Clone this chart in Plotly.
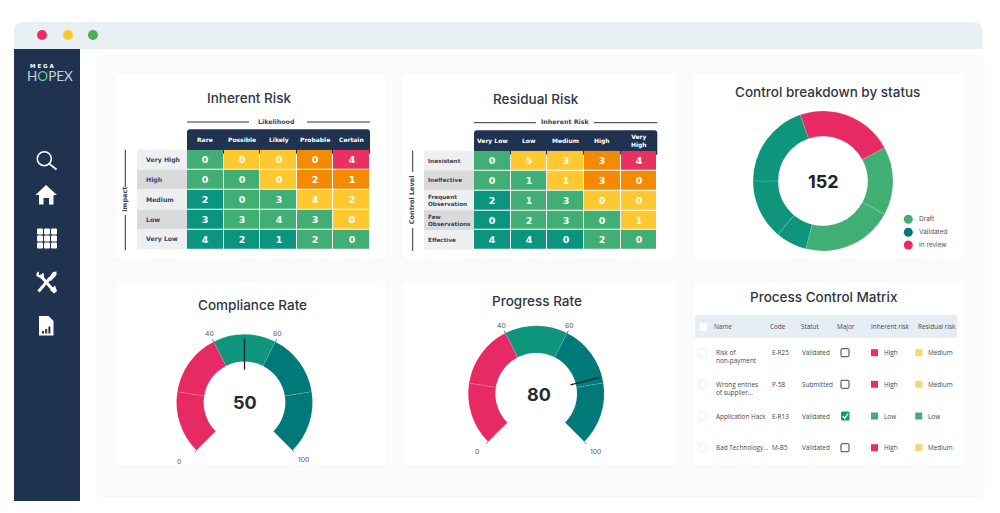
import plotly.graph_objects as go

# Theme config
NAVY = "#1f3350"
TITLE_COLOR = "#2f3647"
LABEL_COLOR = "#3a4256"
TITLE_FONT = "Inter, Arial, sans-serif"
BOLD_FONT = "DejaVu Sans"
TABLE_FONT = "Open Sans, Arial, sans-serif"

PINK = "#e72a63"
MID_GREEN = "#0e957c"
TEAL = "#007a78"
DRAFT_GREEN = "#41ae73"
LEVEL_COLORS = ["#0b957f", "#41ae73", "#ffc82e", "#f38a00", "#e8315e"]

# Heatmap data
inherent_cols = ["Rare", "Possible", "Likely", "Probable", "Certain"]
inherent_rows = ["Very High", "High", "Medium", "Low", "Very Low"]
inherent_counts = [[0, 0, 0, 0, 4], [0, 0, 0, 2, 1], [2, 0, 3, 4, 2], [3, 3, 4, 3, 0], [4, 2, 1, 2, 0]]

residual_cols = ["Very Low", "Low", "Medium", "High", "Very<br>High"]
residual_rows = ["Inexistent", "Ineffective", "Frequent<br>Observation", "Few<br>Observations", "Effective"]
residual_counts = [[0, 5, 3, 3, 4], [0, 1, 1, 3, 0], [2, 1, 3, 0, 0], [0, 2, 3, 0, 1], [4, 4, 0, 2, 0]]

risk_levels = [[1, 2, 2, 3, 4], [1, 1, 2, 3, 3], [0, 1, 1, 2, 2], [0, 1, 1, 1, 2], [0, 0, 0, 1, 1]]

# Donut data
donut_labels = ["In review", "Draft A", "Draft B", "Validated A", "Validated B", "Validated C"]
donut_values = [34, 24, 32, 11, 21, 30]
donut_colors = [PINK, DRAFT_GREEN, DRAFT_GREEN, MID_GREEN, MID_GREEN, MID_GREEN]
donut_total = "152"
legend_names = ["Draft", "Validated", "In review"]
legend_colors = [DRAFT_GREEN, TEAL, PINK]

# Gauge data
gauge_edges = [0, 20, 40, 60, 80, 100]
gauge_band_colors = [PINK, PINK, MID_GREEN, TEAL, TEAL]
gauge_ticks = [0, 40, 60, 100]
compliance_value = 50
compliance_needle = 50
progress_value = 80
progress_needle = 78

# Table data
table_headers = ["Name", "Code", "Statut", "Major", "Inherent risk", "Residual risk"]
table_names = ["Risk of<br>non-payment", "Wrong entries<br>of supplier...", "Application Hack", "Bad Technology..."]
table_codes = ["E-R25", "P-58", "E-R13", "M-B5"]
table_status = ["Validated", "Submitted", "Validated", "Validated"]
table_major = [False, False, True, False]
table_inherent = ["High", "High", "Low", "High"]
table_residual = ["Medium", "Medium", "Low", "Medium"]
RISK_COLOR = {"High": "#e8315e", "Medium": "#f5d76e", "Low": "#41ae73"}

shapes = []
annotations = []


def text(x, y, s, size, color=LABEL_COLOR, family=TITLE_FONT, anchor="center", angle=0, weight="normal"):
    annotations.append(dict(
        x=x, y=y, xref="x", yref="y", text=s, showarrow=False, xanchor=anchor, yanchor="middle",
        textangle=angle, align="left" if anchor == "left" else "center",
        font=dict(size=size, color=color, family=family, weight=weight),
    ))


def rounded(x0, y0, x1, y1, r, fill, line=None, width=1, top_only=False):
    br = 0 if top_only else r
    path = (f"M {x0 + r},{y0} L {x1 - r},{y0} Q {x1},{y0} {x1},{y0 + r} "
            f"L {x1},{y1 - br} Q {x1},{y1} {x1 - br},{y1} L {x0 + br},{y1} Q {x0},{y1} {x0},{y1 - br} "
            f"L {x0},{y0 + r} Q {x0},{y0} {x0 + r},{y0} Z")
    shapes.append(dict(type="path", path=path, xref="x", yref="y", fillcolor=fill, layer="below",
                       line=dict(color=line or fill, width=width if line else 0)))


def rect(x0, y0, x1, y1, fill, line=None, width=1):
    shapes.append(dict(type="rect", x0=x0, y0=y0, x1=x1, y1=y1, xref="x", yref="y", fillcolor=fill,
                       layer="below", line=dict(color=line or fill, width=width if line else 0)))


def line(x0, y0, x1, y1, color, width=1):
    shapes.append(dict(type="line", x0=x0, y0=y0, x1=x1, y1=y1, xref="x", yref="y", layer="below",
                       line=dict(color=color, width=width)))


def circle(cx, cy, r, fill, line_color=None, width=0):
    shapes.append(dict(type="circle", x0=cx - r, y0=cy - r, x1=cx + r, y1=cy + r, xref="x", yref="y",
                       fillcolor=fill, layer="below", line=dict(color=line_color or fill, width=width)))


def poly(path, fill):
    shapes.append(dict(type="path", path=path, xref="x", yref="y", fillcolor=fill, layer="below", line=dict(width=0)))


# -----------------
# Window frame
# -----------------
rounded(14, 22, 983, 60, 10, "#e8f0f3", top_only=True)
rect(14, 49, 983, 502, "#ffffff")
rounded(97, 56, 984, 497, 6, "#fbfbfc", "#f7f7f9")
rect(14, 49, 80, 501, NAVY)
for cx, col in zip([42, 68, 93], ["#e8305e", "#ffc82e", "#4caf50"]):
    circle(cx, 35, 5, col)

# Cards
for box in [(114, 73, 387, 260), (401, 73, 677, 260), (692, 73, 965, 260),
            (115, 280, 387, 466), (402, 280, 677, 466), (692, 280, 965, 466)]:
    rounded(*box, 4, "#ffffff", "#f6f6f8")

# -----------------
# Sidebar logo and icons
# -----------------
text(41.5, 66, "M E G A", 5.5, "#ffffff", BOLD_FONT, weight="bold")
text(49.5, 76, "H<span style='color:#5fd0a0'>O</span>PEX", 13.5, "#c9d2dc", "Lato, sans-serif")

circle(44.3, 158.7, 7, "rgba(0,0,0,0)", "#ffffff", 1.6)
line(49.5, 164, 56.5, 169.5, "#ffffff", 1.8)

poly("M 46,185 L 57,195 L 53.5,195 L 53.5,204.5 L 49,204.5 L 49,198 L 43.5,198 L 43.5,204.5 "
     "L 39,204.5 L 39,195 L 35.5,195 Z", "#ffffff")

for gx in [37, 44, 51]:
    for gy in [228.5, 235.5, 242.5]:
        rounded(gx, gy, gx + 6, gy + 6, 1, "#ffffff")

# crossed wrench and screwdriver
line(38.5, 291.5, 50, 278, "#ffffff", 3)
poly("M 48,279 L 53,272 L 56.5,271.5 L 56.5,275 L 51,281 Z", "#ffffff")
line(40, 275, 53, 290, "#ffffff", 3)
poly("M 36.5,276 Q 35.5,272.5 39,271.5 L 38.8,275 L 41.2,275.5 L 43,272.5 Q 45.5,276 42,279 Z", "#ffffff")
poly("M 50,290 L 55,285.5 L 57,291 L 54,293.5 Z", "#ffffff")

poly("M 39,316 L 48.5,316 L 53.5,321 L 53.5,335.5 L 39,335.5 Z", "#ffffff")
for bx, top in [(42, 331), (45.2, 329), (48.4, 326.5)]:
    rect(bx, top, bx + 2, 333.5, NAVY)

# -----------------
# Heatmap decoration: headers, row labels, axis captions
# -----------------
def matrix_frame(left, right, top, bottom, head_top, label_left, label_pad, label_size, cols, rows, caption, cap_x, line_y, gap, side, side_x, side_y, side_gap):
    rounded(left, head_top, right, top + 4, 3, NAVY, top_only=True)
    cw = (right - left) / len(cols)
    rh = (bottom - top) / len(rows)
    for i, c in enumerate(cols):
        text(left + cw * (i + 0.5), (head_top + top) / 2, c, 6, "#ffffff", BOLD_FONT, weight="bold")
    for i, r in enumerate(rows):
        y0 = top + rh * i
        rect(label_left, y0, left, y0 + rh, "#d9dadc" if i % 2 else "#eeeff1")
        text(label_left + label_pad, y0 + rh / 2, r, label_size, "#39435a", BOLD_FONT, anchor="left", weight="bold")
    line(left, line_y, gap[0], line_y, "#333333", 1)
    line(gap[1], line_y, right, line_y, "#333333", 1)
    text(cap_x, line_y - 1, caption, 6.3, "#39435a", BOLD_FONT, weight="bold")
    line(side_x, top, side_x, side_gap[0], "#333333", 1)
    line(side_x, side_gap[1], side_x, bottom + 1, "#333333", 1)
    text(side_x - 0.5, side_y, side, 6.5, "#39435a", BOLD_FONT, angle=-90, weight="bold")


matrix_frame(187, 370, 149.7, 249.3, 129.3, 137, 7, 6.2, inherent_cols, inherent_rows, "Likelihood", 275.7, 122,
             (249, 307), "Impact", 125.3, 199, (187, 215))
matrix_frame(474, 657.3, 150.7, 250, 130.3, 424, 1.5, 5.7, residual_cols, residual_rows, "Inherent Risk", 565, 122.7,
             (536, 594), "Control Level", 412.7, 200, (172, 228))

text(249, 98.3, "Inherent Risk", 13.5, TITLE_COLOR, weight=500)
text(535.7, 98.7, "Residual Risk", 13.5, TITLE_COLOR, weight=500)
text(827.7, 92, "Control breakdown by status", 13.5, TITLE_COLOR, weight=500)
text(252.7, 304.7, "Compliance Rate", 13.5, TITLE_COLOR, weight=500)
text(537, 300.7, "Progress Rate", 13.5, TITLE_COLOR, weight=500)
text(824.3, 296.7, "Process Control Matrix", 13.5, TITLE_COLOR, weight=500)

# -----------------
# Table
# -----------------
rect(695, 315, 957, 338, "#e6edf5")
rounded(699.5, 323, 707, 331, 1, "#ffffff")
header_x = [712, 767.5, 798.5, 835, 868.5, 916]
for hx, h in zip(header_x, table_headers):
    text(hx, 326, h, 6.4, "#3f4759", TABLE_FONT, anchor="left")

row_y = [352.7, 384.3, 416, 447.7]
risk_x, risk_y, risk_c = [], [], []
for i, ry in enumerate(row_y):
    rounded(699, ry - 4, 707, ry + 4, 1, "#ffffff", "#e6e7ea", 0.8)
    name_y = ry + 4 if "<br>" in table_names[i] else ry
    text(714, name_y, table_names[i], 6.4, "#3f4759", TABLE_FONT, anchor="left")
    text(770, ry, table_codes[i], 6.4, "#3f4759", TABLE_FONT, anchor="left")
    text(800, ry, table_status[i], 6.4, "#3f4759", TABLE_FONT, anchor="left")
    if table_major[i]:
        rounded(841, ry - 4.5, 849.5, ry + 4.5, 1.5, "#0e9a6a")
        shapes.append(dict(type="path", path=f"M 842.8,{ry} L 844.8,{ry + 2.4} L 848,{ry - 2.4}", xref="x", yref="y",
                           layer="below", line=dict(color="#ffffff", width=1.4)))
    else:
        rounded(841, ry - 4, 849, ry + 4, 1, "#ffffff", "#3a3f4a", 1)
    text(881.5, ry, table_inherent[i], 6.4, "#3f4759", TABLE_FONT, anchor="left")
    text(926, ry, table_residual[i], 6.4, "#3f4759", TABLE_FONT, anchor="left")
    risk_x += [874.5, 918.7]
    risk_y += [ry, ry]
    risk_c += [RISK_COLOR[table_inherent[i]], RISK_COLOR[table_residual[i]]]

# -----------------
# Donut legend and centre
# -----------------
legend_y = [219.3, 232.3, 245]
for ly, n in zip(legend_y, legend_names):
    text(917, ly, n, 6.5, "#4a5265", TITLE_FONT, anchor="left")
text(823.5, 181, donut_total, 18, "#20242f", weight="bold")

fig = go.Figure()

# Page overlay traces: table risk squares and donut legend dots
fig.add_trace(go.Scatter(
    x=risk_x, y=risk_y, mode="markers", xaxis="x", yaxis="y", hoverinfo="skip", showlegend=False,
    marker=dict(symbol="square", size=7, color=risk_c),
))
fig.add_trace(go.Scatter(
    x=[908.3] * 3, y=legend_y, mode="markers", xaxis="x", yaxis="y", hoverinfo="skip", showlegend=False,
    marker=dict(size=9, color=legend_colors),
))

# -----------------
# Heatmaps
# -----------------
level_scale = [[i / 4, c] for i, c in enumerate(LEVEL_COLORS)]
for counts, axx, axy in [(inherent_counts, "x2", "y2"), (residual_counts, "x3", "y3")]:
    fig.add_trace(go.Heatmap(
        z=risk_levels, text=counts, texttemplate="%{text}", xaxis=axx, yaxis=axy,
        colorscale=level_scale, zmin=0, zmax=4, showscale=False, xgap=1, ygap=1, hoverinfo="skip",
        textfont=dict(size=9.5, color="#ffffff", family=BOLD_FONT, weight="bold"),
    ))

# -----------------
# Donut
# -----------------
fig.add_trace(go.Pie(
    labels=donut_labels, values=donut_values, hole=0.64, sort=False, direction="clockwise", rotation=341,
    textinfo="none", hoverinfo="skip", showlegend=False,
    marker=dict(colors=donut_colors, line=dict(color="rgba(255,255,255,0.35)", width=0.4)),
    domain=dict(x=[0.753, 0.893], y=[1 - 251 / 513, 1 - 111 / 513]),
))

# -----------------
# Gauges
# -----------------
def value_to_angle(v):
    return -135 + v * 2.7


def add_gauge(polar_id, needle_value, needle_r):
    mids = [(a + b) / 2 for a, b in zip(gauge_edges[:-1], gauge_edges[1:])]
    fig.add_trace(go.Barpolar(
        r=[0.4] * len(mids), base=[0.6] * len(mids), theta=[value_to_angle(m) for m in mids], width=[54] * len(mids),
        subplot=polar_id, hoverinfo="skip", showlegend=False,
        marker=dict(color=gauge_band_colors, line=dict(color="rgba(255,255,255,0.3)", width=0.4)),
    ))
    tick_r, tick_t = [], []
    for t in gauge_ticks:
        tick_r += [1.0, 1.04, None]
        tick_t += [value_to_angle(t), value_to_angle(t), None]
    fig.add_trace(go.Scatterpolar(
        r=tick_r, theta=tick_t, mode="lines", subplot=polar_id, hoverinfo="skip", showlegend=False,
        line=dict(color="#777777", width=1),
    ))
    fig.add_trace(go.Scatterpolar(
        r=needle_r, theta=[value_to_angle(needle_value)] * 2, mode="lines", subplot=polar_id, hoverinfo="skip",
        showlegend=False, line=dict(color="#16233a", width=1.3),
    ))


add_gauge("polar", compliance_needle, [0.48, 0.94])
add_gauge("polar2", progress_needle, [0.52, 0.98])


def polar_layout(cx, cy, radius=68, rmax=1.3):
    half = radius * rmax
    return dict(
        domain=dict(x=[(cx - half) / 1000, (cx + half) / 1000], y=[1 - (cy + half) / 513, 1 - (cy - half) / 513]),
        bgcolor="rgba(0,0,0,0)", barmode="overlay",
        radialaxis=dict(visible=False, range=[0, rmax]),
        angularaxis=dict(visible=False, rotation=90, direction="clockwise"),
    )


for (tx, ty), t in zip([(178.7, 461), (209.3, 333), (277.5, 333), (303.5, 459)], gauge_ticks):
    text(tx, ty, str(t), 6.8, "#555a66", TITLE_FONT)
for (tx, ty), t in zip([(477, 451), (501, 325), (569.5, 325), (595, 451)], gauge_ticks):
    text(tx, ty, str(t), 6.8, "#555a66", TITLE_FONT)
text(244.5, 402, str(compliance_value), 18, "#262a36", weight="bold")
text(539, 394, str(progress_value), 18, "#262a36", weight="bold")


def hidden_axis(left, right, **kw):
    return dict(domain=[left, right], visible=False, fixedrange=True, **kw)


fig.update_layout(
    width=1000, height=513, margin=dict(l=0, r=0, t=0, b=0),
    paper_bgcolor="#ffffff", plot_bgcolor="rgba(0,0,0,0)", showlegend=False,
    xaxis=hidden_axis(0, 1, range=[0, 1000]),
    yaxis=hidden_axis(0, 1, range=[513, 0]),
    xaxis2=hidden_axis(187 / 1000, 370 / 1000, anchor="y2"),
    yaxis2=hidden_axis(1 - 249.3 / 513, 1 - 149.7 / 513, anchor="x2", autorange="reversed"),
    xaxis3=hidden_axis(474 / 1000, 657.3 / 1000, anchor="y3"),
    yaxis3=hidden_axis(1 - 250 / 513, 1 - 150.7 / 513, anchor="x3", autorange="reversed"),
    polar=polar_layout(244.5, 402.3),
    polar2=polar_layout(536.2, 393.7),
    shapes=shapes,
    annotations=annotations,
)

# browser default body margin would shift the page by 8px
fig.write_html("out.html", config=dict(displayModeBar=False),
               post_script="document.body.style.margin='0';document.body.style.overflow='hidden';")
